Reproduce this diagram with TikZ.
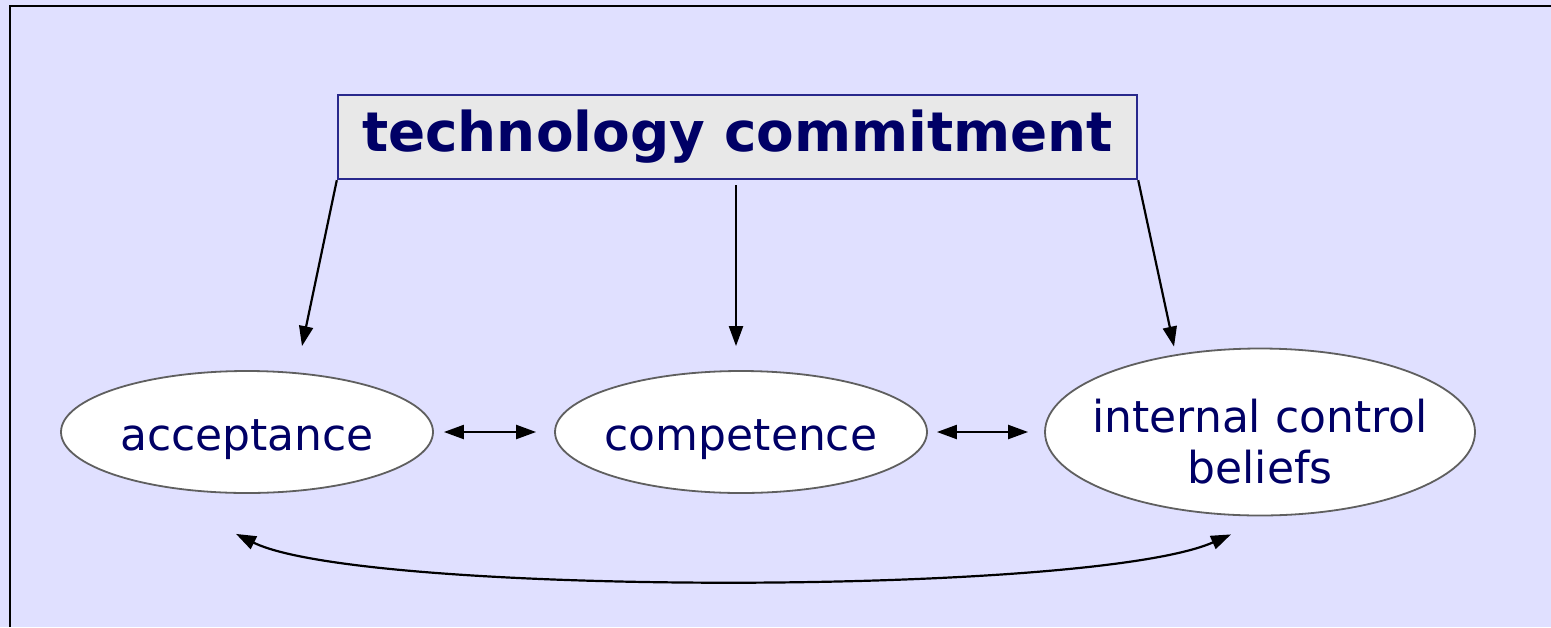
\documentclass[tikz,border=0pt]{standalone}
\usepackage{fontspec}
\setmainfont{DejaVu Sans}
\usepackage{xcolor}
\usetikzlibrary{calc,shapes.geometric,arrows.meta}

\definecolor{lavback}{RGB}{224,224,255}
\definecolor{navytext}{RGB}{0,0,102}
\definecolor{boxgray}{RGB}{232,232,232}
\definecolor{boxline}{RGB}{40,40,140}
\definecolor{ovalline}{RGB}{95,95,95}

\begin{document}
\begin{tikzpicture}[x=0.5pt,y=-0.5pt,
    belief/.style={ellipse,draw=ovalline,fill=white,line width=0.9pt,inner sep=0pt,
      text=navytext,font=\fontsize{22}{25.5}\selectfont},
    link/.style={-{Triangle[length=10pt,width=7pt]},line width=1.1pt},
    twoway/.style={{Triangle[length=10pt,width=7pt]}-{Triangle[length=10pt,width=7pt]},line width=1.1pt}]
      % \useasboundingbox (0,0) rectangle (1551,627);
      \def\smallw{186pt} \def\smallh{61pt}%
      \useasboundingbox (0,0) rectangle (1551,627);%
      \fill[lavback] (0,0) rectangle (1551,627);%
      \draw[line width=1.3pt] (10,627) -- (10,6) -- (1551,6);%

      \node[draw=boxline,fill=boxgray,line width=1.2pt,inner sep=0pt,
        minimum width=399.5pt,minimum height=42pt,text=navytext,
        font=\fontsize{27.4}{32}\bfseries\selectfont] (TC) at (737.5,137) {technology commitment};%

      \node[belief,minimum width=\smallw,minimum height=\smallh] (Acc) at (247,432)
        {\makebox[0pt]{\raisebox{-9pt}[0pt][0pt]{acceptance}}};%
      \node[belief,minimum width=\smallw,minimum height=\smallh] (Comp) at (741,432)
        {\makebox[0pt]{\raisebox{-9pt}[0pt][0pt]{competence}}};%
      \node[belief,minimum width=215pt,minimum height=83.5pt] (ICB) at (1260,432)
        {\makebox[0pt]{\raisebox{0pt}[0pt][0pt]{\begin{tabular}[t]{@{}c@{}}internal control\\beliefs\end{tabular}}}};%

      \coordinate (Acc_u) at ($(Acc.south)+(-11,40)$);%
      \coordinate (ICB_u) at ($(ICB.south)+(-29,18)$);%

      \draw[link] (TC.south west) -- ($(Acc.north)+(55,-24)$);%
      \draw[link] ($(TC.south)+(-1.5,5)$) -- ($(Comp.north)+(-5,-24)$);%
      \draw[link] (TC.south east) -- ($(ICB.north)+(-86,-1)$);%

      \draw[twoway,shorten <=5pt,shorten >=9pt] (Acc.east) -- (Comp.west);%
      \draw[twoway,shorten <=4.5pt,shorten >=8pt] (Comp.east) -- (ICB.west);%
      \draw[twoway] (Acc_u) .. controls +(125,62) and +(-140,62) .. (ICB_u);%
    \end{tikzpicture}
\end{document}
